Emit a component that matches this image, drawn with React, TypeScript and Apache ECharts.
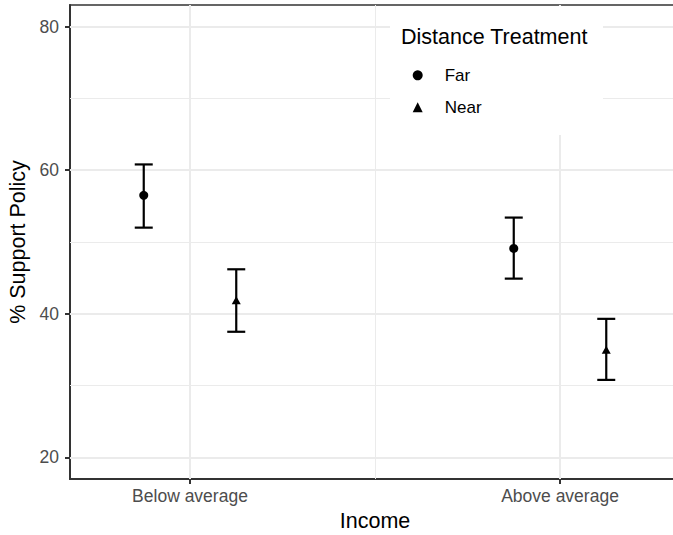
import React, { useEffect, useRef } from "react";
import * as echarts from "echarts";

const categories = ["Below average", "Above average"];
const catPos = [1, 2];
const dodge = 0.125;
const groups = ["Far", "Near"];
const farMean = [56.5, 49.1];
const farLow = [52.0, 44.9];
const farHigh = [60.8, 53.4];
const nearMean = [41.9, 35.0];
const nearLow = [37.5, 30.8];
const nearHigh = [46.2, 39.3];
const yTicks = [20, 40, 60, 80];
const yMinor = [30, 50, 70];
const xMinor = [1.5];

const FONT = "Liberation Sans, Arial, Helvetica, sans-serif";

export default function App() {
  const ref = useRef<HTMLDivElement>(null);
  useEffect(() => {
    if (!ref.current) return;
    const chart = echarts.init(ref.current, undefined, { renderer: "svg" });

    const farX = catPos.map((p) => p - dodge);
    const nearX = catPos.map((p) => p + dodge);

    const errData = (xs: number[], lo: number[], hi: number[]) => xs.map((x, i) => [x, lo[i], hi[i]]);

    const renderErr = (params: any, api: any) => {
      const x = api.value(0);
      const lo = api.coord([x, api.value(1)]);
      const hi = api.coord([x, api.value(2)]);
      const hw = 9;
      const style = { stroke: "#000", lineWidth: 2.2 };
      return {
        type: "group",
        children: [
          { type: "line", shape: { x1: lo[0], y1: lo[1], x2: hi[0], y2: hi[1] }, style },
          { type: "line", shape: { x1: lo[0] - hw, y1: lo[1], x2: lo[0] + hw, y2: lo[1] }, style },
          { type: "line", shape: { x1: hi[0] - hw, y1: hi[1], x2: hi[0] + hw, y2: hi[1] }, style },
        ],
      };
    };

    const gridLines = [
      ...yTicks.map((v) => ({ yAxis: v, lineStyle: { width: 2 } })),
      ...yMinor.map((v) => ({ yAxis: v, lineStyle: { width: 1 } })),
      ...catPos.map((v) => ({ xAxis: v, lineStyle: { width: 2 } })),
      ...xMinor.map((v) => ({ xAxis: v, lineStyle: { width: 1 } })),
    ];

    chart.setOption({
      animation: false,
      textStyle: { fontFamily: FONT },
      title: {
        text: "Distance Treatment",
        left: 401,
        top: 26,
        padding: 0,
        textStyle: { fontSize: 21.5, fontWeight: "normal", color: "#000", fontFamily: FONT },
      },
      legend: {
        data: [
          { name: groups[0], icon: "circle" },
          { name: groups[1], icon: "triangle" },
        ],
        orient: "vertical",
        left: 412.7,
        top: 65.3,
        itemWidth: 10,
        itemHeight: 10,
        itemGap: 12,
        padding: 0,
        itemStyle: { opacity: 1 },
        textStyle: { fontSize: 17, color: "#000", lineHeight: 20, padding: [0, 0, 0, 17], fontFamily: FONT },
      },
      graphic: [
        {
          type: "rect",
          z: 3,
          shape: { x: 390, y: 6, width: 213, height: 129 },
          style: { fill: "#fff" },
          silent: true,
        },
      ],
      grid: {
        left: 70,
        top: 5,
        width: 610,
        height: 474,
        outerBoundsMode: "none",
        containLabel: false,
        show: true,
        borderColor: "#333",
        borderWidth: 1.6,
        backgroundColor: "#fff",
      },
      xAxis: {
        type: "value",
        min: 0.6757,
        max: 2.3243,
        name: "Income",
        nameLocation: "middle",
        nameGap: 29,
        nameTextStyle: { fontSize: 21.5, color: "#000", fontFamily: FONT },
        axisLine: { show: true, onZero: false, lineStyle: { color: "#333", width: 2 } },
        axisTick: { show: true, length: 5, customValues: catPos, lineStyle: { color: "#333", width: 2 } },
        axisLabel: {
          customValues: catPos,
          margin: 8,
          fontSize: 17.5,
          color: "#4D4D4D",
          fontFamily: FONT,
          formatter: (v: number) => {
            const i = catPos.indexOf(Math.round(v * 1000) / 1000);
            return i >= 0 ? categories[i] : "";
          },
        },
        splitLine: { show: false },
      },
      yAxis: {
        type: "value",
        min: 17,
        max: 83,
        name: "% Support Policy",
        nameLocation: "middle",
        nameGap: 37,
        nameTextStyle: { fontSize: 21.5, color: "#000", fontFamily: FONT },
        axisLine: { show: true, onZero: false, lineStyle: { color: "#333", width: 2 } },
        axisTick: { show: true, length: 5, customValues: yTicks, lineStyle: { color: "#333", width: 2 } },
        axisLabel: { customValues: yTicks, margin: 11, fontSize: 17.5, color: "#4D4D4D", fontFamily: FONT },
        splitLine: { show: false },
      },
      series: [
        {
          type: "scatter",
          name: "grid",
          data: [],
          z: 1,
          silent: true,
          markLine: {
            silent: true,
            z: 1,
            symbol: "none",
            label: { show: false },
            animation: false,
            lineStyle: { color: "#EBEBEB", type: "solid" },
            data: gridLines,
          },
        },
        {
          type: "custom",
          name: "Far bars",
          z: 2,
          renderItem: renderErr,
          encode: { x: 0, y: [1, 2] },
          data: errData(farX, farLow, farHigh),
        },
        {
          type: "custom",
          name: "Near bars",
          z: 2,
          renderItem: renderErr,
          encode: { x: 0, y: [1, 2] },
          data: errData(nearX, nearLow, nearHigh),
        },
        {
          type: "scatter",
          name: groups[0],
          symbol: "circle",
          symbolSize: 9,
          z: 4,
          itemStyle: { color: "#000", opacity: 1 },
          data: farX.map((x, i) => [x, farMean[i]]),
        },
        {
          type: "scatter",
          name: groups[1],
          symbol: "triangle",
          symbolSize: [9, 8],
          z: 4,
          itemStyle: { color: "#000", opacity: 1 },
          data: nearX.map((x, i) => [x, nearMean[i]]),
        },
      ],
    });
    return () => chart.dispose();
  }, []);
  return (
    <div
      ref={ref}
      style={{ position: "fixed", left: 0, top: 0, width: 673, height: 535, background: "#fff" }}
    />
  );
}
